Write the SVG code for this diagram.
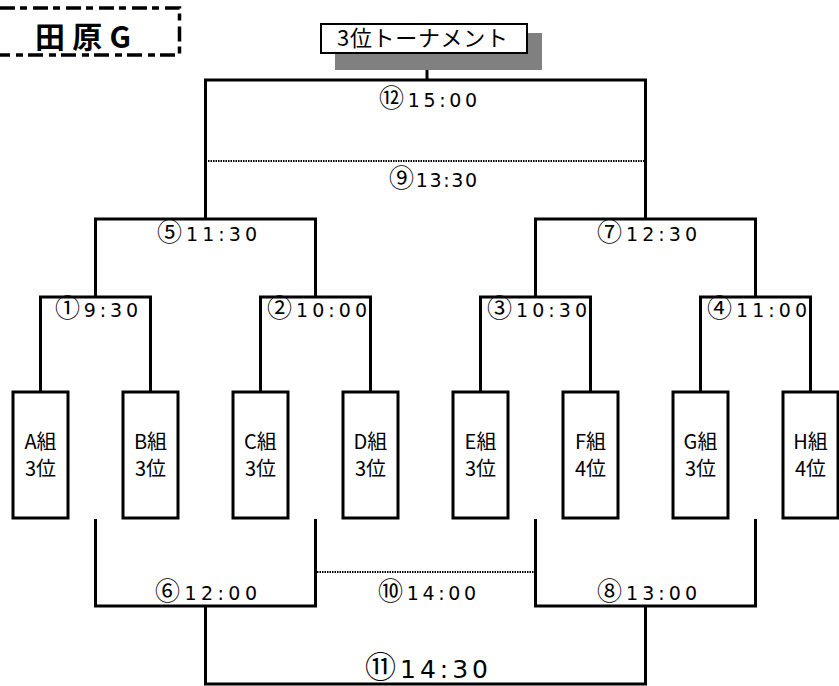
<svg xmlns="http://www.w3.org/2000/svg" width="839" height="686" viewBox="0 0 839 686">
<style>
text{font-family:"Noto Sans CJK JP","Noto Sans",sans-serif;fill:#000}
.ln{fill:none;stroke:#000;stroke-width:3;stroke-linejoin:miter;stroke-linecap:butt}
.dot{fill:none;stroke:#000;stroke-width:2;stroke-dasharray:1.5 1}
.box{fill:#fff;stroke:#000;stroke-width:3}
.lbl{font-family:"DejaVu Sans","Noto Sans CJK JP",sans-serif;font-size:19px}
.c{font-family:"Noto Sans CJK JP",sans-serif;font-size:25px}
.big{font-size:25px}
.bigc{font-size:31px}
.grp{font-size:20px;text-anchor:middle}
</style>
<rect width="839" height="686" fill="#fff"/>
<g id="header">
<path d="M0 8 H179.5 V55 H0" fill="none" stroke="#000" stroke-width="3.5" stroke-dasharray="15 5 7 6"/>
<text x="35" y="48" font-size="30" font-weight="bold" textLength="96" lengthAdjust="spacing">田原G</text>
</g>
<g id="connectors">
<path class="ln" d="M427 70 V80"/>
<path class="ln" d="M205.5 219 V80 H645.5 V219"/>
<path class="dot" d="M205.5 161 H645.5"/>
<path class="ln" d="M95.5 297 V219 H315.5 V297"/>
<path class="ln" d="M535.5 297 V219 H755.5 V297"/>
<path class="ln" d="M40.5 392 V297 H150.5 V392"/>
<path class="ln" d="M260.5 392 V297 H370.5 V392"/>
<path class="ln" d="M480.5 392 V297 H590.5 V392"/>
<path class="ln" d="M700.5 392 V297 H810.5 V392"/>
<path class="ln" d="M95.5 519 V606 H315.5 V519"/>
<path class="ln" d="M535.5 519 V606 H755.5 V519"/>
<path class="dot" d="M317 572 H534"/>
<path class="ln" d="M205.5 606 V684 H645.5 V606"/>
</g>
<g id="title">
<rect x="335" y="33" width="207" height="37" fill="#808080"/>
<rect x="321" y="24" width="206" height="29" fill="#fff" stroke="#000" stroke-width="2"/>
<text x="337" y="46" font-size="22" textLength="171" lengthAdjust="spacing">3位トーナメント</text>
</g>
<g id="m12"><text class="lbl" x="379" y="107" textLength="98" lengthAdjust="spacing"><tspan class="c">⑫</tspan>15:00</text></g>
<g id="m9"><text class="lbl" x="389" y="187" textLength="88" lengthAdjust="spacing"><tspan class="c">⑨</tspan>13:30</text></g>
<g id="m5"><text class="lbl" x="157" y="241" textLength="100" lengthAdjust="spacing"><tspan class="c">⑤</tspan>11:30</text></g>
<g id="m7"><text class="lbl" x="597" y="241" textLength="100" lengthAdjust="spacing"><tspan class="c">⑦</tspan>12:30</text></g>
<g id="m1"><text class="lbl" x="55" y="317" textLength="83" lengthAdjust="spacing"><tspan class="c">①</tspan>9:30</text></g>
<g id="m2"><text class="lbl" x="267" y="317" textLength="100" lengthAdjust="spacing"><tspan class="c">②</tspan>10:00</text></g>
<g id="m3"><text class="lbl" x="487" y="317" textLength="100" lengthAdjust="spacing"><tspan class="c">③</tspan>10:30</text></g>
<g id="m4"><text class="lbl" x="707" y="317" textLength="100" lengthAdjust="spacing"><tspan class="c">④</tspan>11:00</text></g>
<g id="m6"><text class="lbl" x="155" y="600" textLength="102" lengthAdjust="spacing"><tspan class="c">⑥</tspan>12:00</text></g>
<g id="m10"><text class="lbl" x="378" y="600" textLength="98" lengthAdjust="spacing"><tspan class="c">⑩</tspan>14:00</text></g>
<g id="m8"><text class="lbl" x="597" y="600" textLength="100" lengthAdjust="spacing"><tspan class="c">⑧</tspan>13:00</text></g>
<g id="m11"><text class="lbl big" x="365" y="678" textLength="123" lengthAdjust="spacing"><tspan class="c bigc">⑪</tspan>14:30</text></g>
<g id="A"><rect class="box" x="13" y="392" width="55" height="126"/><text class="grp" x="40.5" y="449">A組</text><text class="grp" x="40.5" y="476">3位</text></g>
<g id="B"><rect class="box" x="123" y="392" width="55" height="126"/><text class="grp" x="150.5" y="449">B組</text><text class="grp" x="150.5" y="476">3位</text></g>
<g id="C"><rect class="box" x="233" y="392" width="55" height="126"/><text class="grp" x="260.5" y="449">C組</text><text class="grp" x="260.5" y="476">3位</text></g>
<g id="D"><rect class="box" x="343" y="392" width="55" height="126"/><text class="grp" x="370.5" y="449">D組</text><text class="grp" x="370.5" y="476">3位</text></g>
<g id="E"><rect class="box" x="453" y="392" width="55" height="126"/><text class="grp" x="480.5" y="449">E組</text><text class="grp" x="480.5" y="476">3位</text></g>
<g id="F"><rect class="box" x="563" y="392" width="55" height="126"/><text class="grp" x="590.5" y="449">F組</text><text class="grp" x="590.5" y="476">4位</text></g>
<g id="G"><rect class="box" x="673" y="392" width="55" height="126"/><text class="grp" x="700.5" y="449">G組</text><text class="grp" x="700.5" y="476">3位</text></g>
<g id="H"><rect class="box" x="783" y="392" width="55" height="126"/><text class="grp" x="810.5" y="449">H組</text><text class="grp" x="810.5" y="476">4位</text></g>
</svg>
